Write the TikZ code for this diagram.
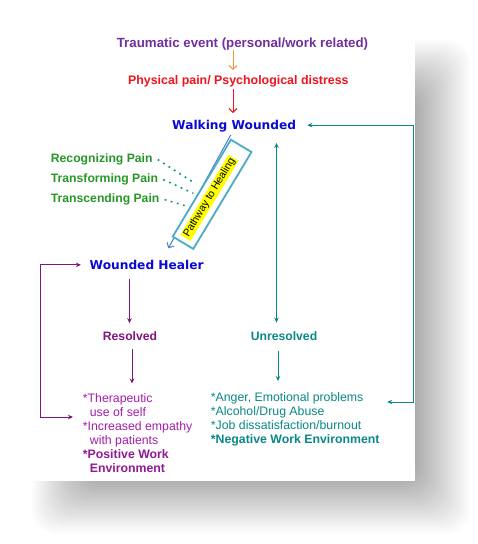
\documentclass[tikz,border=0pt]{standalone}
\usepackage{fontspec}
\setmainfont{Liberation Sans}
\newfontfamily\comicfont{DejaVu Sans}
\usetikzlibrary{arrows.meta,calc}
\definecolor{ttlpurple}{RGB}{112,48,160}
\definecolor{orangec}{RGB}{247,150,70}
\definecolor{redc}{RGB}{240,20,30}
\definecolor{bluetxt}{RGB}{10,10,210}
\definecolor{tealc}{RGB}{10,135,135}
\definecolor{greenc}{RGB}{40,150,40}
\definecolor{dotc}{RGB}{20,150,100}
\definecolor{purpc}{RGB}{128,20,128}
\definecolor{magc}{RGB}{165,30,170}
\definecolor{magbold}{RGB}{145,25,150}
\definecolor{boxblue}{RGB}{75,172,198}
\definecolor{arrblue}{RGB}{70,130,200}
\definecolor{hiyellow}{RGB}{255,255,0}
\begin{document}
\begin{tikzpicture}[x=1pt,y=1pt,
  txt/.style={inner sep=0pt, anchor=base},
  ttl/.style={txt, text=ttlpurple, font={\fontsize{13.3}{16}\selectfont\bfseries}},
  physt/.style={txt, text=redc, font={\fontsize{12.4}{15}\selectfont\bfseries}},
  comic/.style={txt, text=bluetxt, font={\comicfont\fontsize{12.2}{14}\selectfont\bfseries}},
  greentxt/.style={txt, text=greenc, font={\fontsize{12.2}{15}\selectfont\bfseries}},
  restxt/.style={txt, text=purpc, font={\fontsize{12.2}{15}\selectfont\bfseries}},
  unrestxt/.style={txt, text=tealc, font={\fontsize{12.2}{15}\selectfont\bfseries}},
  listtxt/.style={inner sep=0pt, anchor=north west, align=left, font={\fontsize{12.3}{14}\selectfont}},
  orarr/.style={draw=orangec, line width=1pt, -{Straight Barb[length=4pt,width=8pt]}},
  redarr/.style={draw=redc, line width=1pt, -{Straight Barb[length=4pt,width=8pt]}},
  bluearr/.style={draw=arrblue, line width=1pt, -{Straight Barb[length=4pt,width=8pt]}},
  tealarr/.style={draw=tealc, line width=1pt, -{Stealth[length=5pt,width=4.5pt]}},
  tealdbl/.style={draw=tealc, line width=1pt, {Stealth[length=5pt,width=4.5pt]}-{Stealth[length=5pt,width=4.5pt]}},
  purparr/.style={draw=purpc, line width=1pt, -{Stealth[length=5pt,width=4.5pt]}},
  purpdbl/.style={draw=purpc, line width=1pt, {Stealth[length=5pt,width=4.5pt]}-{Stealth[length=5pt,width=4.5pt]}},
  dotline/.style={draw=dotc, line width=1.6pt, dash pattern=on 1.8pt off 4.6pt}
]
\useasboundingbox (0,0) rectangle (478,-544);
\fill[white] (0,0) rectangle (478,-544);
% shadow (soft, stacked layers)
\foreach \e in {30,28,...,-30}{
  \fill[black,opacity=0.013,rounded corners=22pt] (62-\e,-70+\e) rectangle (440+\e,-503-\e);
}
% panel
\fill[white] (31,-31) rectangle (415,-481);

% texts
\node[ttl] (trauma) at (242.5,-47) {Traumatic event (personal/work related)};
\node[physt] (phys) at (238.3,-84.5) {Physical pain/ Psychological distress};
\node[comic] (walk) at (234.2,-129.5) {Walking Wounded};
\node[comic] (healer) at (146.7,-269.4) {Wounded Healer};
\node[greentxt, anchor=base west] (recog) at (50.7,-162.7) {Recognizing Pain};
\node[greentxt, anchor=base west] (transf) at (50.7,-182.7) {Transforming Pain};
\node[greentxt, anchor=base west] (transc) at (50.7,-202.7) {Transcending Pain};
\node[restxt] (res) at (130,-340.4) {Resolved};
\node[unrestxt] (unres) at (284,-340.4) {Unresolved};
\node[listtxt, text=magc] (rlist) at (82.7,-393.5) {*Therapeutic\\\hspace*{7pt}use of self\\*Increased empathy\\\hspace*{7pt}with patients\\\textcolor{magbold}{\bfseries *Positive Work}\\\hspace*{7pt}\textcolor{magbold}{\bfseries Environment}};
\node[listtxt, text=tealc] (ulist) at (210.7,-392.4) {*Anger, Emotional problems\\*Alcohol/Drug Abuse\\*Job dissatisfaction/burnout\\\textbf{*Negative Work Environment}};

% pathway to healing
\coordinate (pend) at (168.3,-248.3);
\draw[bluearr] ($(walk.south -| 230.7,0)+(0,-2.7)$) -- (pend);
\node[draw=boxblue, line width=1.8pt, fill=white, minimum width=113pt, minimum height=24pt, rotate=59, inner sep=0pt] (pbox) at (212.1,-194.3) {};
\node[fill=hiyellow, rotate=59, font={\fontsize{10.5}{12}\selectfont}, inner xsep=1.5pt, inner ysep=1pt] (pth) at (209.5,-197.8) {Pathway to Healing};
\coordinate (d1) at (195,-183.3);
\coordinate (d2) at (193.3,-193.3);
\coordinate (d3) at (188.3,-206.7);
\draw[dotline] ($(recog.east)+(5,0)$) -- (d1);
\draw[dotline] ($(transf.east)+(5,0)$) -- (d2);
\draw[dotline] ($(transc.east)+(5,0)$) -- (d3);

% connectors
\draw[orarr] (trauma.south -| 233,0) -- ($(phys.north -| 233,0)+(0,5.3)$);
\draw[redarr] ($(phys.south -| 233,0)+(0,-2)$) -- ($(walk.north -| 233,0)+(0,7)$);
\draw[tealdbl] ($(walk.east)+(11,1)$) -| (413.5,-402) -- ($(ulist.north east |- 0,-402)+(7.5,0)$);
\draw[tealdbl] ($(walk.south -| 276.5,0)+(0,-10.7)$) -- ($(unres.north -| 276.5,0)+(0,8.8)$);
\draw[tealarr] ($(unres.south -| 278,0)+(0,-10)$) -- ($(ulist.north -| 278,0)+(0,11.4)$);
\draw[purparr] ($(healer.south -| 129.5,0)+(0,-9)$) -- ($(res.north -| 129.5,0)+(0,8.2)$);
\draw[purparr] ($(res.south -| 132,0)+(0,-8.3)$) -- ($(rlist.north -| 132,0)+(0,10)$);
\draw[purpdbl] ($(healer.west)+(-8.6,0)$) -| (40,-417) -- ($(rlist.west |- 0,-417)+(-9.7,0)$);
\end{tikzpicture}
\end{document}
